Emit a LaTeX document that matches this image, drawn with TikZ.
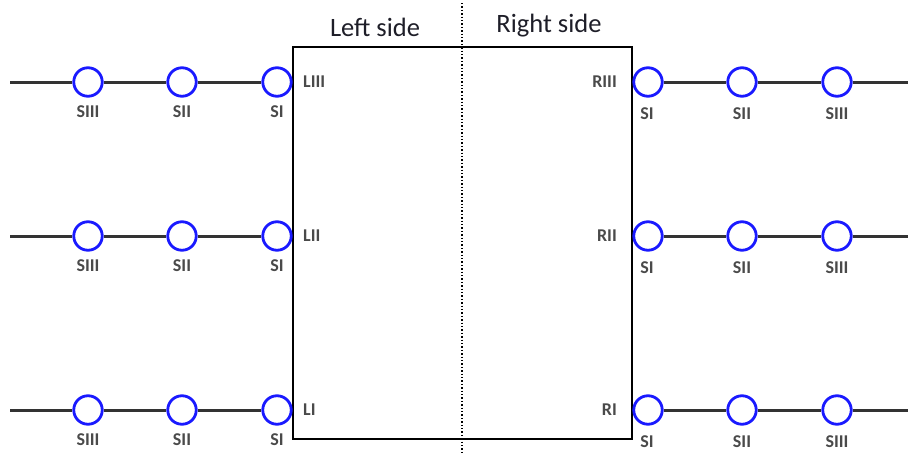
\documentclass[tikz,border=0pt]{standalone}
\usepackage{fontspec}
\setmainfont{Carlito}
\definecolor{labelgray}{HTML}{4A4A4A}
\definecolor{wiregray}{HTML}{333333}
\definecolor{titlecol}{HTML}{1E1E28}
\definecolor{stnblue}{HTML}{1A1AFF}
\begin{document}
\begin{tikzpicture}[x=1pt,y=-1pt,
  stn/.style={circle, draw=stnblue, line width=2.8pt, minimum size=28.5pt, inner sep=0pt, fill=white},
  lbl/.style={text=labelgray, font=\bfseries\fontsize{18}{20}\selectfont, inner sep=0pt},
  sidelbl/.style={text=labelgray, font=\bfseries\fontsize{18}{20}\selectfont, inner sep=0pt},
  title/.style={text=titlecol, font=\fontsize{26.5}{30}\selectfont, inner sep=0pt},
  wire/.style={draw=wiregray, line width=3pt},
  boxst/.style={draw=black, line width=2.4pt, minimum width=339pt, minimum height=392pt, inner sep=0pt}]
\useasboundingbox (0,0) rectangle (908,455);
\node[boxst] (box) at (462.5,243) {};
\coordinate (dt) at (462,3);
\coordinate (db) at (462,455);
\draw[dotted, line width=1.4pt] (dt) -- (db);
\node[title] (lt) at (375,27) {Left side};
\node[title] (rt) at (549,26) {Right side};
\foreach \y/\n/\L/\R in {82/3/LIII/RIII, 236/2/LII/RII, 410/1/LI/RI}{
  \node[stn] (a3\n) at (88,\y) {};
  \node[stn] (a2\n) at (182,\y) {};
  \node[stn] (a1\n) at (277,\y) {};
  \node[stn] (b1\n) at (648,\y) {};
  \node[stn] (b2\n) at (742,\y) {};
  \node[stn] (b3\n) at (837,\y) {};
  \coordinate (lw\n) at (10,\y);
  \coordinate (rw\n) at (908,\y);
  \draw[wire] (lw\n) -- (a3\n);
  \draw[wire] (a3\n) -- (a2\n);
  \draw[wire] (a2\n) -- (a1\n);
  \draw[wire] (b1\n) -- (b2\n);
  \draw[wire] (b2\n) -- (b3\n);
  \draw[wire] (b3\n) -- (rw\n);
  \node[lbl] (la3\n) at (88,\y+30) {SIII};
  \node[lbl] (la2\n) at (182,\y+30) {SII};
  \node[lbl] (la1\n) at (277,\y+30) {SI};
  \node[lbl] (lb1\n) at (647,\y+32) {SI};
  \node[lbl] (lb2\n) at (742,\y+32) {SII};
  \node[lbl] (lb3\n) at (837,\y+32) {SIII};
  \node[sidelbl, anchor=west] (sl\n) at (303,\y) {\L};
  \node[sidelbl, anchor=east] (sr\n) at (617,\y) {\R};
}
\end{tikzpicture}
\end{document}
